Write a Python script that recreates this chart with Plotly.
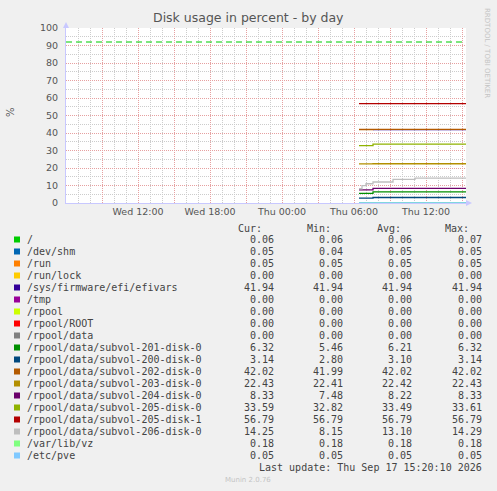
import plotly.graph_objects as go

# ---------------- data ----------------
times = ["2026-09-17 06:25", "2026-09-17 06:40", "2026-09-17 07:00",
         "2026-09-17 07:35", "2026-09-17 09:15", "2026-09-17 11:05",
         "2026-09-17 15:20"]

names = ["/", "/dev/shm", "/run", "/run/lock", "/sys/firmware/efi/efivars",
         "/tmp", "/rpool", "/rpool/ROOT", "/rpool/data",
         "/rpool/data/subvol-201-disk-0", "/rpool/data/subvol-200-disk-0",
         "/rpool/data/subvol-202-disk-0", "/rpool/data/subvol-203-disk-0",
         "/rpool/data/subvol-204-disk-0", "/rpool/data/subvol-205-disk-0",
         "/rpool/data/subvol-205-disk-1", "/rpool/data/subvol-206-disk-0",
         "/var/lib/vz", "/etc/pve"]

colors = ["#00CC00", "#0066B3", "#FF8000", "#FFCC00", "#330099", "#990099",
          "#CCFF00", "#FF0000", "#808080", "#008F00", "#00487D", "#B35A00",
          "#B38F00", "#6B006B", "#8FB300", "#B30000", "#BEBEBE", "#80FF80",
          "#80C9FF"]

v_root = [0.07, 0.07, 0.06, 0.06, 0.06, 0.06, 0.06]
v_devshm = [0.04, 0.04, 0.04, 0.05, 0.05, 0.05, 0.05]
v_run = [0.05, 0.05, 0.05, 0.05, 0.05, 0.05, 0.05]
v_runlock = [0.00, 0.00, 0.00, 0.00, 0.00, 0.00, 0.00]
v_efivars = [None, None, None, 41.94, 41.94, 41.94, 41.94]
v_tmp = [0.00, 0.00, 0.00, 0.00, 0.00, 0.00, 0.00]
v_rpool = [0.00, 0.00, 0.00, 0.00, 0.00, 0.00, 0.00]
v_rpool_root = [0.00, 0.00, 0.00, 0.00, 0.00, 0.00, 0.00]
v_rpool_data = [0.00, 0.00, 0.00, 0.00, 0.00, 0.00, 0.00]
v_201 = [5.46, 5.46, 5.46, 6.32, 6.32, 6.32, 6.32]
v_200 = [2.80, 2.80, 2.80, 3.14, 3.14, 3.14, 3.14]
v_202 = [41.99, 41.99, 41.99, 42.02, 42.02, 42.02, 42.02]
v_203 = [22.41, 22.41, 22.41, 22.43, 22.43, 22.43, 22.43]
v_204 = [7.48, 7.48, 7.48, 8.33, 8.33, 8.33, 8.33]
v_205_0 = [32.82, 32.82, 32.82, 33.59, 33.61, 33.59, 33.59]
v_205_1 = [56.79, 56.79, 56.79, 56.79, 56.79, 56.79, 56.79]
v_206 = [8.15, 9.90, 11.00, 12.00, 13.50, 14.25, 14.25]
v_vz = [0.18, 0.18, 0.18, 0.18, 0.18, 0.18, 0.18]
v_pve = [0.05, 0.05, 0.05, 0.05, 0.05, 0.05, 0.05]

series = [v_root, v_devshm, v_run, v_runlock, v_efivars, v_tmp, v_rpool,
          v_rpool_root, v_rpool_data, v_201, v_200, v_202, v_203, v_204,
          v_205_0, v_205_1, v_206, v_vz, v_pve]

cur = ["0.06", "0.05", "0.05", "0.00", "41.94", "0.00", "0.00", "0.00", "0.00",
       "6.32", "3.14", "42.02", "22.43", "8.33", "33.59", "56.79", "14.25",
       "0.18", "0.05"]
mins = ["0.06", "0.04", "0.05", "0.00", "41.94", "0.00", "0.00", "0.00", "0.00",
        "5.46", "2.80", "41.99", "22.41", "7.48", "32.82", "56.79", "8.15",
        "0.18", "0.05"]
avgs = ["0.06", "0.05", "0.05", "0.00", "41.94", "0.00", "0.00", "0.00", "0.00",
        "6.21", "3.10", "42.02", "22.42", "8.22", "33.49", "56.79", "13.10",
        "0.18", "0.05"]
maxs = ["0.07", "0.05", "0.05", "0.00", "41.94", "0.00", "0.00", "0.00", "0.00",
        "6.32", "3.14", "42.02", "22.43", "8.33", "33.61", "56.79", "14.29",
        "0.18", "0.05"]

warning = 92
x_range = ["2026-09-16 06:00", "2026-09-17 15:20"]
x_tickvals = ["2026-09-16 09:00", "2026-09-16 12:00", "2026-09-16 15:00",
              "2026-09-16 18:00", "2026-09-16 21:00", "2026-09-17 00:00",
              "2026-09-17 03:00", "2026-09-17 06:00", "2026-09-17 09:00",
              "2026-09-17 12:00", "2026-09-17 15:00"]
x_ticktext = ["", "Wed 12:00", "", "Wed 18:00", "", "Thu 00:00", "",
              "Thu 06:00", "", "Thu 12:00", ""]
y_tickvals = [0, 10, 20, 30, 40, 50, 60, 70, 80, 90, 100]

title = "Disk usage in percent - by day"
last_update = "Last update: Thu Sep 17 15:20:10 2026"

# ---------------- layout geometry ----------------
WIDTH, HEIGHT = 497, 491
L, R, T, B = 66, 466, 28, 203
PW, PH = R - L, B - T


def px(x):
    return (x - L) / PW


def py(y):
    return (B - y) / PH


TXT = "#444444"
MONO = "DejaVu Sans Mono"
SANS = "DejaVu Sans"

fig = go.Figure()

for name, col, vals in zip(names, colors, series):
    fig.add_trace(go.Scatter(x=times, y=vals, mode="lines", name=name,
                             line=dict(color=col, width=1.3, shape="hv"),
                             connectgaps=False, showlegend=False,
                             hoverinfo="skip"))

annotations = []
shapes = []

# title
annotations.append(dict(text=title, x=px(248.5), y=py(18), xref="paper", yref="paper",
                        xanchor="center", yanchor="middle", showarrow=False,
                        font=dict(family=SANS, size=12.5, color="#555555")))
# y label
annotations.append(dict(text="%", x=px(10), y=py(112), xref="paper", yref="paper",
                        xanchor="center", yanchor="middle", showarrow=False,
                        textangle=-90, font=dict(family=SANS, size=10, color="#555555")))
# right watermark
annotations.append(dict(text="RRDTOOL / TOBI OETIKER", x=px(487), y=py(53),
                        xref="paper", yref="paper", xanchor="center", yanchor="middle",
                        showarrow=False, textangle=90,
                        font=dict(family=SANS, size=7, color="#C4C4C4")))

# legend header
for label, xr in zip(["Cur:", "Min:", "Avg:", "Max:"], [264, 333, 403, 471]):
    annotations.append(dict(text=label, x=px(xr), y=py(228.5), xref="paper", yref="paper",
                            xanchor="right", yanchor="middle", showarrow=False,
                            font=dict(family=MONO, size=10, color=TXT)))

row0, step = 239.5, 12.0
for i, name in enumerate(names):
    yy = row0 + i * step
    shapes.append(dict(type="rect", xref="paper", yref="paper",
                       x0=px(14), x1=px(20), y0=py(yy - 3), y1=py(yy + 3),
                       fillcolor=colors[i], line=dict(width=0)))
    annotations.append(dict(text=name, x=px(25), y=py(yy), xref="paper", yref="paper",
                            xanchor="left", yanchor="middle", showarrow=False,
                            font=dict(family=MONO, size=10, color=TXT)))
    for val, xr in zip([cur[i], mins[i], avgs[i], maxs[i]], [276, 345, 414, 484]):
        annotations.append(dict(text=val, x=px(xr), y=py(yy), xref="paper", yref="paper",
                                xanchor="right", yanchor="middle", showarrow=False,
                                font=dict(family=MONO, size=10, color=TXT)))

annotations.append(dict(text=last_update, x=px(484), y=py(467.5), xref="paper", yref="paper",
                        xanchor="right", yanchor="middle", showarrow=False,
                        font=dict(family=MONO, size=10, color=TXT)))
annotations.append(dict(text="Munin 2.0.76", x=px(248), y=py(480.5), xref="paper", yref="paper",
                        xanchor="center", yanchor="middle", showarrow=False,
                        font=dict(family=SANS, size=7, color="#C4C4C4")))

# axis arrows
AX = "#C8C8FF"
shapes.append(dict(type="path", xref="paper", yref="paper",
                   path=f"M {px(63)},{py(28)} L {px(69)},{py(28)} L {px(66)},{py(22)} Z",
                   fillcolor=AX, line=dict(width=0)))
shapes.append(dict(type="path", xref="paper", yref="paper",
                   path=f"M {px(466)},{py(200)} L {px(466)},{py(206)} L {px(472)},{py(203)} Z",
                   fillcolor=AX, line=dict(width=0)))
# warning rule
shapes.append(dict(type="line", xref="paper", yref="y", x0=0, x1=px(462),
                   y0=warning, y1=warning,
                   line=dict(color="#00CC00", width=1.2, dash="6px,4px")))

GRID_MAJ = "#E6A0A0"
GRID_MIN = "#CCCCCC"
fig.update_layout(
    width=WIDTH, height=HEIGHT,
    margin=dict(l=L, r=WIDTH - R, t=T, b=HEIGHT - B, pad=0),
    paper_bgcolor="#F0F0F0", plot_bgcolor="#FFFFFF",
    showlegend=False,
    annotations=annotations, shapes=shapes,
    xaxis=dict(type="date", range=x_range, tickmode="array",
               tickvals=x_tickvals, ticktext=x_ticktext, ticks="",
               showgrid=True, gridcolor=GRID_MAJ, griddash="1px,1px", gridwidth=1,
               minor=dict(dtick=3600000, tick0="2026-09-16 06:00", showgrid=True,
                          gridcolor=GRID_MIN, griddash="1px,1px", gridwidth=1),
               showline=True, linecolor=AX, linewidth=1,
               zeroline=False, fixedrange=True,
               tickfont=dict(family=SANS, size=9.5, color="#555555")),
    yaxis=dict(range=[0, 100], tickmode="array", tickvals=y_tickvals, ticks="",
               showgrid=True, gridcolor=GRID_MAJ, griddash="1px,1px", gridwidth=1,
               minor=dict(dtick=5, tick0=0, showgrid=True,
                          gridcolor=GRID_MIN, griddash="1px,1px", gridwidth=1),
               showline=True, linecolor=AX, linewidth=1, zeroline=False,
               ticklabelstandoff=5, fixedrange=True,
               tickfont=dict(family=SANS, size=9.5, color="#555555")),
)

fig.write_html("out.html", config={"displayModeBar": False},
               post_script="document.body.style.margin='0';document.body.style.overflow='hidden';")
